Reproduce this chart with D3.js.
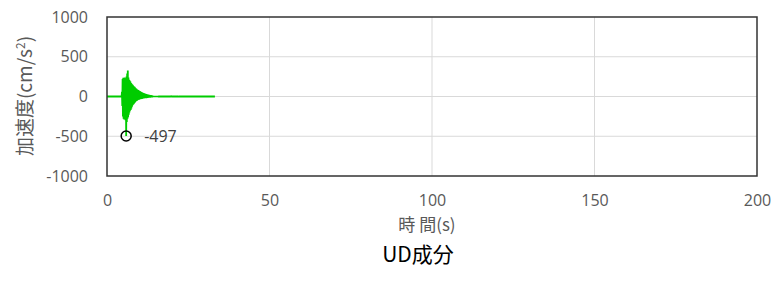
<!DOCTYPE html>
<html>
<head>
<meta charset="utf-8">
<script src="https://cdn.jsdelivr.net/npm/d3@7"></script>
<style>
    body { margin: 0; background: #fff; }
    svg { display: block; }
</style>
</head>
<body>
<svg id="chart"></svg>
<script>
// axis ticks
const xTicks = [0, 50, 100, 150, 200];
const yTicks = [-1000, -500, 0, 500, 1000];

// quiet lead-in / tail (time s, acceleration 0)
const quietTimes = [0, 4.5];
const tailTimes = [16.1, 19.4, 22.4, 33.2];

// strong motion, sampled every 0.1 s starting at 4.6 s
const strongStart = 4.6;
const strongStep = 0.1;
const strongMotion = [
    60, -120, 220, -250, 235, -280, 200, -290, 240, -260,
    210, -300, 230, -497, 250, -320, 290, -280, 328, -260,
    240, -230, 210, -200, 200, -180, 190, -170, 170, -150,
    160, -130, 150, -110, 140, -100, 130, -90, 125, -80,
    115, -70, 105, -60, 100, -55, 90, -50, 85, -45,
    80, -40, 75, -40, 70, -35, 65, -35, 60, -30,
    55, -30, 50, -28, 45, -25, 42, -25, 40, -22,
    36, -22, 33, -20, 30, -20, 28, -18, 26, -18,
    24, -16, 22, -15, 20, -14, 18, -13, 16, -12,
    14, -10, 12, -9, 10, -8, 8, -7, 7, -6,
    6, -5, 5, -4, 4, -4, 3, -3, 3, -2,
    2, -2, 1, -1, 0
];

// small later arrival, sampled every 0.2 s starting at 19.6 s
const bumpStart = 19.6;
const bumpStep = 0.2;
const bumpMotion = [0, 4, -5, 7, -8, 8, -7, 6, -5, 4, -3, 2, -1, 0];

// annotated minimum
const peakTime = 5.9;
const peakValue = -497;

const width = 778, height = 282;
const margin = { left: 107, right: 21, top: 17, bottom: 106 };
const plotW = width - margin.left - margin.right;
const plotH = height - margin.top - margin.bottom;

const svg = d3.select("#chart").attr("width", width).attr("height", height);
const g = svg.append("g").attr("transform", `translate(${margin.left},${margin.top})`);

const x = d3.scaleLinear().domain([0, 200]).range([0, plotW]);
const y = d3.scaleLinear().domain([-1000, 1000]).range([plotH, 0]);

const tickFont = "'Open Sans', 'Liberation Sans', sans-serif";
const cjkFont = "'Noto Sans CJK JP', 'Noto Sans', sans-serif";

// gridlines
g.append("g")
    .selectAll("line")
    .data(yTicks.filter(d => d !== 1000 && d !== -1000))
    .join("line")
    .attr("x1", 0).attr("x2", plotW)
    .attr("y1", d => y(d)).attr("y2", d => y(d))
    .attr("stroke", "#d9d9d9").attr("stroke-width", 1);

g.append("g")
    .selectAll("line")
    .data(xTicks.filter(d => d !== 0 && d !== 200))
    .join("line")
    .attr("x1", d => x(d)).attr("x2", d => x(d))
    .attr("y1", 0).attr("y2", plotH)
    .attr("stroke", "#d9d9d9").attr("stroke-width", 1);

// axes (labels only)
const yAxis = g.append("g")
    .call(d3.axisLeft(y).tickValues(yTicks).tickFormat(d => d).tickSize(0).tickPadding(19));
yAxis.select(".domain").remove();
yAxis.selectAll("text")
    .attr("font-family", tickFont).attr("font-size", 16).attr("fill", "#595959");

const xAxis = g.append("g")
    .attr("transform", `translate(0,${plotH})`)
    .call(d3.axisBottom(x).tickValues(xTicks).tickFormat(d => d).tickSize(0).tickPadding(19));
xAxis.select(".domain").remove();
xAxis.selectAll("text")
    .attr("font-family", tickFont).attr("font-size", 16).attr("fill", "#595959");

// build waveform points
const points = [];
quietTimes.forEach(t => points.push([t, 0]));
strongMotion.forEach((v, i) => points.push([strongStart + i * strongStep, v]));
points.push([tailTimes[0], 0], [tailTimes[1], 0]);
bumpMotion.forEach((v, i) => points.push([bumpStart + i * bumpStep, v]));
points.push([tailTimes[2], 0], [tailTimes[3], 0]);

const line = d3.line().x(d => x(d[0])).y(d => y(d[1]));

g.append("path")
    .datum(points)
    .attr("d", line)
    .attr("fill", "none")
    .attr("stroke", "#00cc00")
    .attr("stroke-width", 1.8)
    .attr("stroke-linejoin", "bevel");

// plot border
g.append("rect")
    .attr("x", 0).attr("y", 0)
    .attr("width", plotW).attr("height", plotH)
    .attr("fill", "none")
    .attr("stroke", "#333")
    .attr("stroke-width", 1.5);

// peak annotation
g.append("circle")
    .attr("cx", x(peakTime)).attr("cy", y(peakValue))
    .attr("r", 5)
    .attr("fill", "none")
    .attr("stroke", "#000")
    .attr("stroke-width", 1.5);

g.append("text")
    .attr("x", x(peakTime) + 18)
    .attr("y", y(peakValue) + 6)
    .attr("font-family", tickFont).attr("font-size", 16)
    .attr("fill", "#404040")
    .text(peakValue);

// axis titles
svg.append("text")
    .attr("x", 427).attr("y", 231)
    .attr("text-anchor", "middle")
    .attr("font-family", cjkFont).attr("font-size", 17)
    .attr("fill", "#595959")
    .text("時 間(s)");

const yTitle = svg.append("text")
    .attr("transform", "translate(32,96) rotate(-90)")
    .attr("text-anchor", "middle")
    .attr("font-family", cjkFont).attr("font-size", 19)
    .attr("fill", "#595959");
yTitle.append("tspan").text("加速度(cm/s");
yTitle.append("tspan").attr("font-size", 12).attr("dy", -7).text("2");
yTitle.append("tspan").attr("dy", 7).text(")");

svg.append("text")
    .attr("x", 418).attr("y", 262)
    .attr("text-anchor", "middle")
    .attr("font-family", cjkFont).attr("font-size", 21)
    .attr("fill", "#000")
    .text("UD成分");
</script>
</body>
</html>
